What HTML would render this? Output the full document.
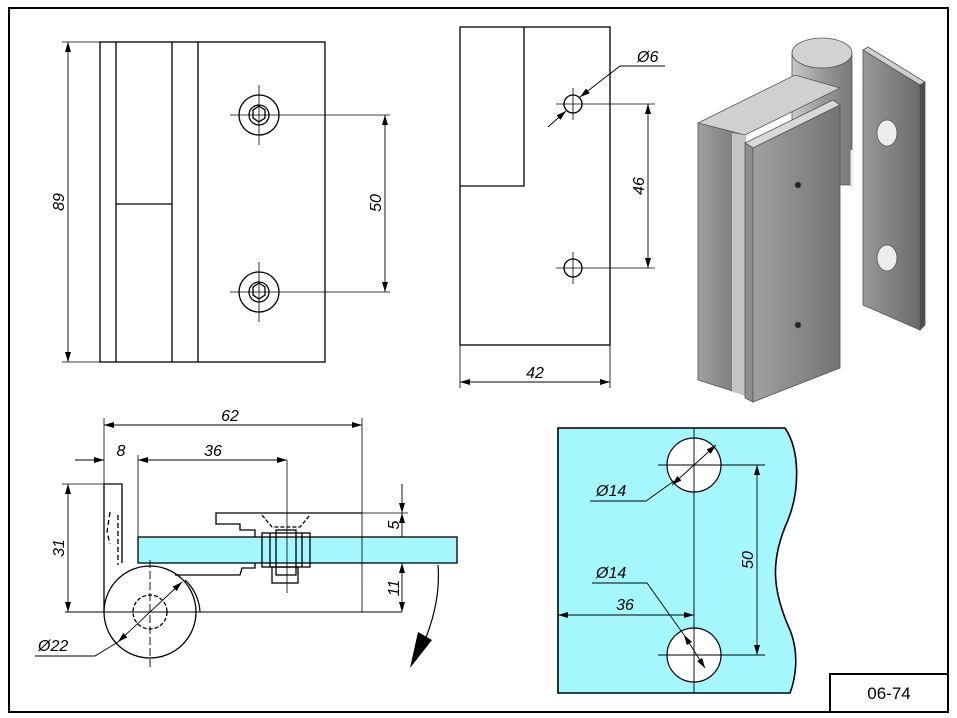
<!DOCTYPE html>
<html><head><meta charset="utf-8"><style>
body{margin:0;background:#fff}
svg{display:block}
text{font-family:"Liberation Sans",sans-serif;font-style:italic;font-size:16px;fill:#000}
</style></head><body>
<svg width="957" height="718" viewBox="0 0 957 718" xmlns="http://www.w3.org/2000/svg">
<defs>
<marker id="a" viewBox="0 0 10 6" refX="10" refY="3" markerWidth="10" markerHeight="6" orient="auto-start-reverse" markerUnits="userSpaceOnUse"><path d="M0,0L10,3L0,6z" fill="#000"/></marker>
<linearGradient id="g1" x1="0" x2="1"><stop offset="0" stop-color="#a0a0a0"/><stop offset="1" stop-color="#747474"/></linearGradient>
<linearGradient id="g2" x1="0" x2="1"><stop offset="0" stop-color="#999"/><stop offset="1" stop-color="#6a6a6a"/></linearGradient>
<linearGradient id="gc" x1="0" x2="1"><stop offset="0" stop-color="#c8c8c8"/><stop offset="0.5" stop-color="#9a9a9a"/><stop offset="1" stop-color="#777"/></linearGradient>
</defs>
<rect x="9" y="8" width="939" height="704" fill="none" stroke="#000" stroke-width="2"/>
<rect x="830" y="674" width="118" height="38" fill="#fff" stroke="#000" stroke-width="2"/>
<text x="889" y="699" text-anchor="middle" style="font-style:normal;font-size:17px">06-74</text>

<g fill="none" stroke="#000" stroke-width="1.3">
<rect x="100" y="42" width="225" height="320"/>
<line x1="116" y1="42" x2="116" y2="362"/><line x1="172" y1="42" x2="172" y2="362"/><line x1="198" y1="42" x2="198" y2="362"/>
<line x1="116" y1="204" x2="172" y2="204"/>
<circle cx="259" cy="115" r="20"/><circle cx="259" cy="115" r="10"/>
<circle cx="259" cy="292" r="20"/><circle cx="259" cy="292" r="10"/>
<path d="M253,110l6,-4l6,4v8l-6,4l-6,-4z"/><path d="M253,287l6,-4l6,4v8l-6,4l-6,-4z"/>
<line x1="259" y1="85" x2="259" y2="145" stroke-width="0.8"/><line x1="230" y1="115" x2="390" y2="115" stroke-width="0.8"/>
<line x1="259" y1="262" x2="259" y2="322" stroke-width="0.8"/><line x1="230" y1="292" x2="390" y2="292" stroke-width="0.8"/>
<line x1="62" y1="42" x2="100" y2="42" stroke-width="0.8"/><line x1="62" y1="362" x2="100" y2="362" stroke-width="0.8"/>
<line x1="68" y1="42" x2="68" y2="362" marker-start="url(#a)" marker-end="url(#a)" stroke-width="0.9"/>
<line x1="385" y1="115" x2="385" y2="292" marker-start="url(#a)" marker-end="url(#a)" stroke-width="0.9"/>

<rect x="460" y="27" width="150" height="318"/>
<polyline points="524,27 524,186 460,186"/>
<circle cx="573" cy="104" r="9"/><circle cx="573" cy="268" r="9"/>
<line x1="573" y1="88" x2="573" y2="120" stroke-width="0.8"/><line x1="556" y1="104" x2="655" y2="104" stroke-width="0.8"/>
<line x1="573" y1="252" x2="573" y2="284" stroke-width="0.8"/><line x1="556" y1="268" x2="655" y2="268" stroke-width="0.8"/>
<line x1="648" y1="104" x2="648" y2="268" marker-start="url(#a)" marker-end="url(#a)" stroke-width="0.9"/>
<line x1="548" y1="127" x2="566" y2="111" marker-end="url(#a)" stroke-width="0.9"/>
<polyline points="580,97 620,66 665,66" marker-start="url(#a)" stroke-width="0.9"/>
<line x1="460" y1="345" x2="460" y2="388" stroke-width="0.8"/><line x1="610" y1="345" x2="610" y2="388" stroke-width="0.8"/>
<line x1="460" y1="382" x2="610" y2="382" marker-start="url(#a)" marker-end="url(#a)" stroke-width="0.9"/>
</g>
<text transform="translate(64,202) rotate(-90)" text-anchor="middle">89</text>
<text transform="translate(381,203) rotate(-90)" text-anchor="middle">50</text>
<text transform="translate(644,186) rotate(-90)" text-anchor="middle">46</text>
<text x="535" y="378" text-anchor="middle">42</text>
<text x="637" y="62">Ø6</text>

<path d="M558,428H785C800,450 800,490 788,520C770,560 772,590 790,630C800,655 795,680 790,693H558Z" fill="#a3f7fd" stroke="#000" stroke-width="1.6"/>
<g fill="none" stroke="#000" stroke-width="1.2">
<circle cx="694" cy="465" r="27" fill="#fff"/><circle cx="694" cy="655" r="27" fill="#fff"/>
<line x1="694" y1="428" x2="694" y2="693" stroke-width="0.9"/>
<line x1="658" y1="465" x2="765" y2="465" stroke-width="0.9"/><line x1="658" y1="655" x2="765" y2="655" stroke-width="0.9"/>
<line x1="757" y1="465" x2="757" y2="655" marker-start="url(#a)" marker-end="url(#a)" stroke-width="0.9"/>
<line x1="558" y1="615" x2="694" y2="615" marker-start="url(#a)" marker-end="url(#a)" stroke-width="0.9"/>
<line x1="672" y1="485" x2="716" y2="445" marker-start="url(#a)" marker-end="url(#a)" stroke-width="0.9"/>
<polyline points="590,501 646,501 674,481" stroke-width="0.9"/>
<line x1="684" y1="635" x2="705" y2="668" marker-start="url(#a)" marker-end="url(#a)" stroke-width="0.9"/>
<polyline points="592,583 647,583 684,635" stroke-width="0.9"/>
</g>
<text x="596" y="496">Ø14</text>
<text x="596" y="578">Ø14</text>
<text x="625" y="610" text-anchor="middle">36</text>
<text transform="translate(753,560) rotate(-90)" text-anchor="middle">50</text>

<rect x="138" y="537" width="319" height="26" fill="#a3f7fd" stroke="#000" stroke-width="1.3"/>
<g fill="none" stroke="#000" stroke-width="1.3">
<polyline points="104,612 104,484 122,484 122,563"/>
<path d="M110,512l-3,20l3,12M118,515v50" stroke-dasharray="5,3"/>
<circle cx="150" cy="612" r="46" fill="#fff"/>
<circle cx="150" cy="612" r="17" stroke-dasharray="4,2"/>
<path d="M185,580A46,46 0 0 1 200,612" stroke-width="1.2"/>
<polyline points="175,575 240,575 242,568 255,568 255,563"/>
<polyline points="255,537 255,530 240,530 240,524 216,524 216,513 362,513"/>
<rect x="262" y="533" width="48" height="34"/>
<line x1="270" y1="533" x2="270" y2="567"/><line x1="302" y1="533" x2="302" y2="567"/>
<rect x="276" y="530" width="20" height="45"/>
<rect x="272" y="567" width="26" height="16"/>
<path d="M262,515l10,12h28l10,-12" stroke-dasharray="4,2"/>
<line x1="287" y1="460" x2="287" y2="593" stroke-width="0.8"/>
<line x1="150" y1="560" x2="150" y2="670" stroke-dasharray="8,3" stroke-width="0.9"/>
<line x1="65" y1="612" x2="402" y2="612" stroke-width="0.9"/>
<line x1="104" y1="418" x2="104" y2="484" stroke-width="0.8"/>
<line x1="138" y1="455" x2="138" y2="537" stroke-width="0.8"/>
<line x1="362" y1="418" x2="362" y2="612" stroke-width="0.8"/>
<line x1="104" y1="425" x2="362" y2="425" marker-start="url(#a)" marker-end="url(#a)" stroke-width="0.9"/>
<line x1="75" y1="460" x2="104" y2="460" marker-end="url(#a)" stroke-width="0.9"/>
<line x1="138" y1="460" x2="287" y2="460" marker-start="url(#a)" marker-end="url(#a)" stroke-width="0.9"/>
<line x1="62" y1="484" x2="104" y2="484" stroke-width="0.8"/>
<line x1="68" y1="484" x2="68" y2="612" marker-start="url(#a)" marker-end="url(#a)" stroke-width="0.9"/>
<line x1="362" y1="513" x2="408" y2="513" stroke-width="0.8"/>
<line x1="457" y1="537" x2="408" y2="537" stroke-width="0.8"/>
<line x1="457" y1="563" x2="408" y2="563" stroke-width="0.8"/>
<line x1="402" y1="484" x2="402" y2="513" marker-end="url(#a)" stroke-width="0.9"/>
<line x1="402" y1="513" x2="402" y2="537" marker-start="url(#a)" stroke-width="0.9"/>
<line x1="402" y1="563" x2="402" y2="612" marker-start="url(#a)" marker-end="url(#a)" stroke-width="0.9"/>
<line x1="118" y1="642" x2="182" y2="582" marker-start="url(#a)" marker-end="url(#a)" stroke-width="0.9"/>
<polyline points="35,656 95,656 118,642" stroke-width="0.9"/>
<path d="M438,565C440,590 435,615 425,640" stroke-width="1.2"/>
</g>
<path d="M418,632l14,8l-22,28z" fill="#000"/>
<text x="230" y="421" text-anchor="middle">62</text>
<text x="121" y="456" text-anchor="middle">8</text>
<text x="213" y="456" text-anchor="middle">36</text>
<text transform="translate(64,548) rotate(-90)" text-anchor="middle">31</text>
<text transform="translate(399,525) rotate(-90)" text-anchor="middle">5</text>
<text transform="translate(399,588) rotate(-90)" text-anchor="middle">11</text>
<text x="38" y="651">Ø22</text>

<!-- 3D render -->
<g stroke="#555" stroke-width="0.8">
<!-- cylinder -->
<path d="M792,53V185H852V53Z" fill="url(#gc)"/>
<ellipse cx="822" cy="53" rx="30" ry="15" fill="#d2d2d2"/>
<!-- back block top face -->
<polygon points="698,123 795,75 840,88 745,135" fill="#d0d0d0"/>
<polygon points="698,123 745,135 745,395 698,380" fill="url(#g1)"/>
<polygon points="732,133 745,135 745,395 732,392" fill="#c4c4c4" stroke="none"/>
<!-- right leaf -->
<polygon points="863,50 920,85 920,330 863,305" fill="url(#g2)"/>
<polygon points="863,50 868,47 925,82 920,85" fill="#d0d0d0"/>
<polygon points="920,85 925,82 925,325 920,330" fill="#4e4e4e"/>
<line x1="852" y1="150" x2="852" y2="185" stroke="#eee" stroke-width="3"/>
<!-- front plate -->
<polygon points="745,143 833,100 840,105 753,148" fill="#d8d8d8"/>
<polygon points="745,143 753,148 753,402 745,398" fill="#8e8e8e"/>
<polygon points="753,148 840,105 840,368 753,402" fill="url(#g1)"/>
<ellipse cx="887" cy="133" rx="10" ry="13" fill="#ececec"/>
<ellipse cx="887" cy="258" rx="10" ry="13" fill="#ececec"/>
<circle cx="798" cy="185" r="3" fill="#222"/><circle cx="798" cy="325" r="3" fill="#222"/>
</g>
</svg>
</body></html>
